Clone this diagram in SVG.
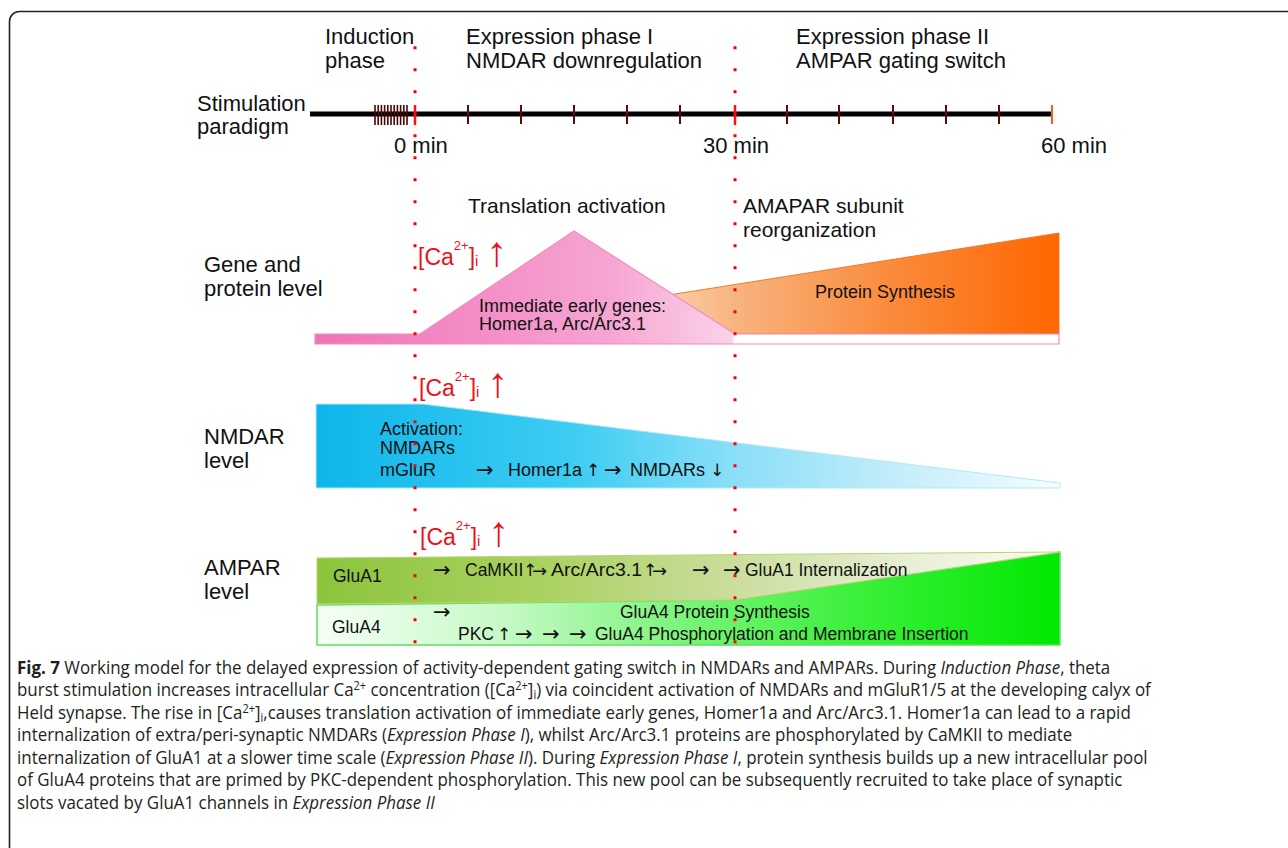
<svg xmlns="http://www.w3.org/2000/svg" width="1288" height="848" viewBox="0 0 1288 848">
<defs>
<style>
text{font-family:"Liberation Sans",Arial,sans-serif;fill:#111}
.h{font-size:22px}
.m{font-size:18px}
.s{font-size:17.5px}
.ar{font-family:"DejaVu Sans",sans-serif;font-size:21px}
.ar2{font-family:"DejaVu Sans",sans-serif;font-size:18px}
.up{font-family:"DejaVu Sans",sans-serif;font-size:17px}
.ca{fill:#e8131b;font-size:23px}
.caar{fill:#e8131b;font-size:42px}
.cap{font-family:"Open Sans","Noto Sans",sans-serif;font-size:18.5px;fill:#231f20}
.it{font-style:italic}
.tick{stroke:#5e0a0a;stroke-width:2}
.burst{stroke:#4a0505;stroke-width:1.6}
.phase{stroke:#ff0000;stroke-width:3;stroke-dasharray:3 19;fill:none}
</style>
<linearGradient id="gPink" gradientUnits="userSpaceOnUse" x1="315" y1="0" x2="1059" y2="0">
<stop offset="0" stop-color="#ee74b6"/><stop offset="0.14" stop-color="#f283c1"/><stop offset="0.4" stop-color="#f6a6d2"/><stop offset="0.56" stop-color="#fbd2e9"/><stop offset="0.565" stop-color="#ffffff"/><stop offset="1" stop-color="#ffffff"/>
</linearGradient>
<linearGradient id="gOrange" gradientUnits="userSpaceOnUse" x1="650" y1="0" x2="1059" y2="0">
<stop offset="0" stop-color="#fbd4b4"/><stop offset="0.22" stop-color="#f8b27c"/><stop offset="0.6" stop-color="#fa8a3a"/><stop offset="1" stop-color="#ff6600"/>
</linearGradient>
<linearGradient id="gCyan" gradientUnits="userSpaceOnUse" x1="316" y1="0" x2="1060" y2="0">
<stop offset="0" stop-color="#0db6ea"/><stop offset="0.35" stop-color="#3ecdf3"/><stop offset="0.55" stop-color="#86def7"/><stop offset="0.8" stop-color="#c8eefb"/><stop offset="1" stop-color="#f6fdff"/>
</linearGradient>
<linearGradient id="gOlive" gradientUnits="userSpaceOnUse" x1="317" y1="0" x2="1060" y2="0">
<stop offset="0" stop-color="#8cc43c"/><stop offset="0.3" stop-color="#aad160"/><stop offset="0.55" stop-color="#c9dd9a"/><stop offset="0.8" stop-color="#e8efd6"/><stop offset="1" stop-color="#fafcf4"/>
</linearGradient>
<linearGradient id="gGreen" gradientUnits="userSpaceOnUse" x1="317" y1="0" x2="1060" y2="0">
<stop offset="0" stop-color="#f6fff6"/><stop offset="0.25" stop-color="#c6f9c6"/><stop offset="0.5" stop-color="#78f478"/><stop offset="0.72" stop-color="#3df03d"/><stop offset="1" stop-color="#00e800"/>
</linearGradient>
</defs>
<rect width="1288" height="848" fill="#ffffff"/>
<path d="M9.5,848 V21.5 A10,10 0 0 1 19.5,11.5 H1290" fill="none" stroke="#222" stroke-width="1.6"/>

<g id="headers">
<text class="h" x="325" y="44">Induction</text>
<text class="h" x="325" y="68">phase</text>
<text class="h" x="466" y="44">Expression phase I</text>
<text class="h" x="466" y="68">NMDAR downregulation</text>
<text class="h" x="796" y="44">Expression phase II</text>
<text class="h" x="796" y="68">AMPAR gating switch</text>
</g>

<g id="timeline">
<text class="h" x="197" y="111">Stimulation</text>
<text class="h" x="197" y="134">paradigm</text>
<line x1="310" y1="114" x2="1052" y2="114" stroke="#000" stroke-width="5"/>
<g class="burst">
<line x1="375" y1="105" x2="375" y2="125"/><line x1="378.2" y1="105" x2="378.2" y2="125"/><line x1="381.4" y1="105" x2="381.4" y2="125"/><line x1="384.6" y1="105" x2="384.6" y2="125"/><line x1="387.8" y1="105" x2="387.8" y2="125"/><line x1="391" y1="105" x2="391" y2="125"/><line x1="394.2" y1="105" x2="394.2" y2="125"/><line x1="397.4" y1="105" x2="397.4" y2="125"/><line x1="400.6" y1="105" x2="400.6" y2="125"/><line x1="403.8" y1="105" x2="403.8" y2="125"/><line x1="407" y1="105" x2="407" y2="125"/>
</g>
<g class="tick">
<line x1="468" y1="105" x2="468" y2="124"/><line x1="521" y1="105" x2="521" y2="124"/><line x1="574" y1="105" x2="574" y2="124"/><line x1="627" y1="105" x2="627" y2="124"/><line x1="680" y1="105" x2="680" y2="124"/>
<line x1="787" y1="105" x2="787" y2="124"/><line x1="839" y1="105" x2="839" y2="124"/><line x1="893" y1="105" x2="893" y2="124"/><line x1="946" y1="105" x2="946" y2="124"/><line x1="999" y1="105" x2="999" y2="124"/>
</g>
<line x1="415" y1="105" x2="415" y2="125" stroke="#ff1010" stroke-width="2.5"/>
<line x1="735" y1="105" x2="735" y2="125" stroke="#ff1010" stroke-width="2.5"/>
<line x1="1052" y1="105" x2="1052" y2="124" stroke="#ff5a1a" stroke-width="2"/>
<text class="h" x="394" y="153">0 min</text>
<text class="h" x="703" y="153">30 min</text>
<text class="h" x="1041" y="153">60 min</text>
</g>

<g id="gene-protein">
<text class="h" x="204" y="272">Gene and</text>
<text class="h" x="204" y="296">protein level</text>
<text class="h" x="468" y="213" style="font-size:21px">Translation activation</text>
<text class="h" x="743" y="213" style="font-size:21px">AMAPAR subunit</text>
<text class="h" x="743" y="237" style="font-size:21px">reorganization</text>
<polygon points="600,306 1059,233 1059,334 600,334" fill="url(#gOrange)" stroke="#f07a2a" stroke-width="1"/>
<polygon points="315,334 420,334 574,231 735,334 1059,334 1059,344 315,344" fill="url(#gPink)" stroke="#f08cc4" stroke-width="1.2"/>
<text class="m" x="479" y="311.5">Immediate early genes:</text>
<text class="m" x="479" y="329.5">Homer1a, Arc/Arc3.1</text>
<text class="m" x="815" y="298">Protein Synthesis</text>
<text class="ca" x="418" y="265">[Ca<tspan dy="-15" font-size="13">2+</tspan><tspan dy="15">]</tspan><tspan dy="1" font-size="15">i</tspan></text>
<text class="caar" x="486" y="266">↑</text>
</g>

<g id="nmdar">
<text class="h" x="204" y="444">NMDAR</text>
<text class="h" x="204" y="468">level</text>
<polygon points="316,404 423,404 1060,483 1060,488 316,488" fill="url(#gCyan)" stroke="#b4e8f7" stroke-width="1"/>
<text class="ca" x="419" y="396">[Ca<tspan dy="-15" font-size="13">2+</tspan><tspan dy="15">]</tspan><tspan dy="1" font-size="15">i</tspan></text>
<text class="caar" x="487" y="397">↑</text>
<text class="m" x="380" y="435">Activation:</text>
<text class="m" x="380" y="453.5">NMDARs</text>
<text class="m" x="380" y="476">mGluR</text>
<text class="ar" x="476" y="477">→</text>
<text class="m" x="508" y="476">Homer1a</text>
<text class="up" x="586" y="476">↑</text>
<text class="ar" x="604" y="477">→</text>
<text class="m" x="630" y="476">NMDARs</text>
<text class="up" x="710" y="476">↓</text>
</g>

<g id="ampar">
<text class="h" x="204" y="575">AMPAR</text>
<text class="h" x="204" y="599">level</text>
<polygon points="317,605 735,600 1060,552 1060,645 317,645" fill="url(#gGreen)" stroke="#5fe05f" stroke-width="1.5"/>
<polygon points="317,558 1060,552 735,600 317,604" fill="url(#gOlive)" stroke="#b9d470" stroke-width="1"/>
<text class="ca" x="420" y="545">[Ca<tspan dy="-15" font-size="13">2+</tspan><tspan dy="15">]</tspan><tspan dy="1" font-size="15">i</tspan></text>
<text class="caar" x="488" y="546">↑</text>
<text class="s" x="333" y="582">GluA1</text>
<text class="s" x="332" y="633">GluA4</text>
<text class="ar" x="433" y="577">→</text>
<text class="s" x="465" y="576">CaMKII</text>
<text class="up" x="523" y="576">↑</text>
<text class="ar2" x="532" y="577">→</text>
<text class="s" x="551" y="576" style="font-size:18px" textLength="91" lengthAdjust="spacingAndGlyphs">Arc/Arc3.1</text>
<text class="up" x="643" y="576">↑</text>
<text class="ar2" x="652" y="577">→</text>
<text class="ar" x="692" y="577">→</text>
<text class="ar" x="723" y="577">→</text>
<text class="s" x="745" y="576">GluA1 Internalization</text>
<text class="ar" x="433" y="619">→</text>
<text class="s" x="620" y="618">GluA4 Protein Synthesis</text>
<text class="s" x="458" y="640">PKC</text>
<text class="up" x="497" y="640">↑</text>
<text class="ar" x="515" y="641">→</text>
<text class="ar" x="542" y="641">→</text>
<text class="ar" x="569" y="641">→</text>
<text class="s" x="595" y="640">GluA4 Phosphorylation and Membrane Insertion</text>
</g>

<g id="connectors">
<line class="phase" x1="415" y1="46.2" x2="415" y2="646"/>
<line class="phase" x1="735" y1="46.2" x2="735" y2="646"/>
</g>

<g id="caption" transform="translate(17,0) scale(0.915,1)">
<text class="cap" x="0" y="674"><tspan font-weight="bold">Fig. 7</tspan> Working model for the delayed expression of activity-dependent gating switch in NMDARs and AMPARs. During <tspan class="it">Induction Phase</tspan>, theta</text>
<text class="cap" x="0" y="696.5">burst stimulation increases intracellular Ca<tspan dy="-6" font-size="12">2+</tspan><tspan dy="6"> concentration ([Ca</tspan><tspan dy="-6" font-size="12">2+</tspan><tspan dy="6">]</tspan><tspan dy="3" font-size="12">i</tspan><tspan dy="-3">) via coincident activation of NMDARs and mGluR1/5 at the developing calyx of</tspan></text>
<text class="cap" x="0" y="719">Held synapse. The rise in [Ca<tspan dy="-6" font-size="12">2+</tspan><tspan dy="6">]</tspan><tspan dy="3" font-size="12">i</tspan><tspan dy="-3">,causes translation activation of immediate early genes, Homer1a and Arc/Arc3.1. Homer1a can lead to a rapid</tspan></text>
<text class="cap" x="0" y="741.5">internalization of extra/peri-synaptic NMDARs (<tspan class="it">Expression Phase I</tspan>), whilst Arc/Arc3.1 proteins are phosphorylated by CaMKII to mediate</text>
<text class="cap" x="0" y="764">internalization of GluA1 at a slower time scale (<tspan class="it">Expression Phase II</tspan>). During <tspan class="it">Expression Phase I</tspan>, protein synthesis builds up a new intracellular pool</text>
<text class="cap" x="0" y="786.5">of GluA4 proteins that are primed by PKC-dependent phosphorylation. This new pool can be subsequently recruited to take place of synaptic</text>
<text class="cap" x="0" y="809">slots vacated by GluA1 channels in <tspan class="it">Expression Phase II</tspan></text>
</g>
</svg>
